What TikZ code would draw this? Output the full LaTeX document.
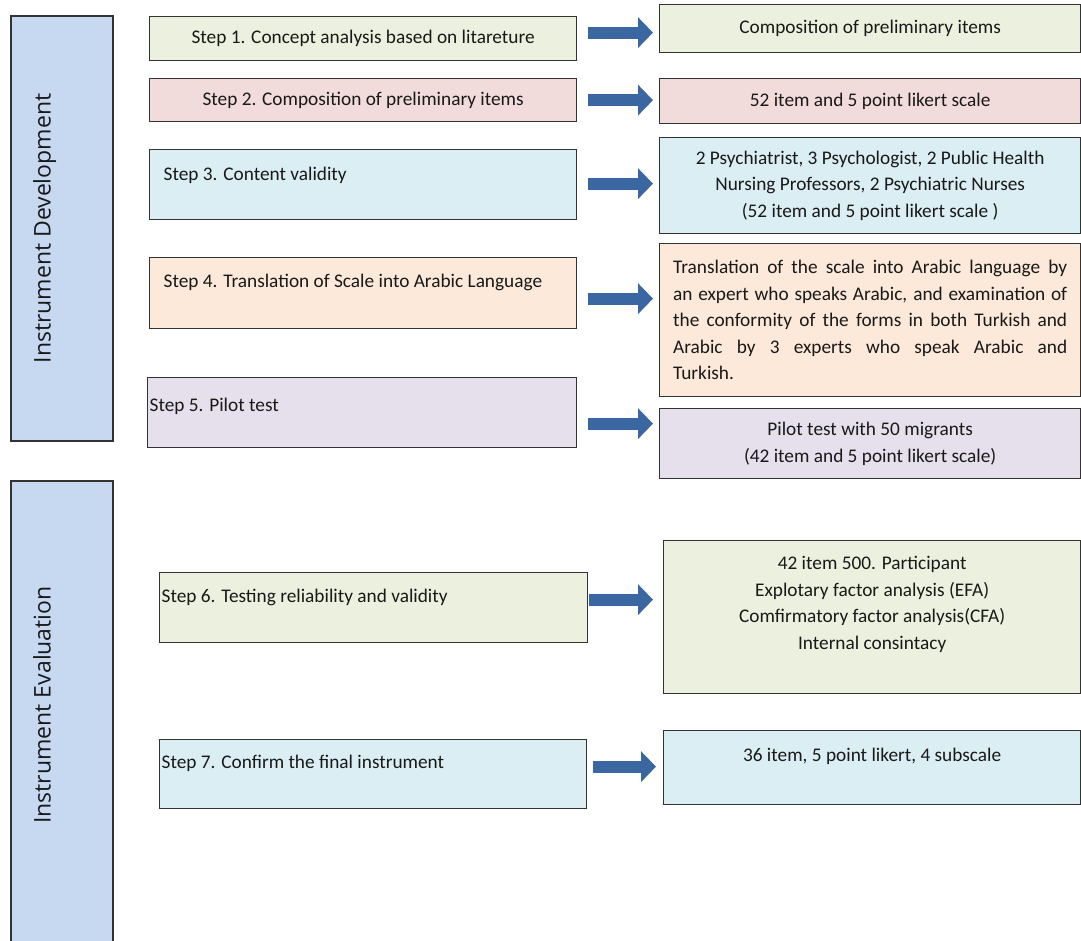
\documentclass[tikz,border=0pt]{standalone}
\usepackage{fontspec}
\setmainfont{Carlito}
\newfontfamily\sidefont{Open Sans}
\usetikzlibrary{arrows.meta}

\definecolor{sidefill}{HTML}{C6D9F1}
\definecolor{greenfill}{HTML}{EBF1DE}
\definecolor{pinkfill}{HTML}{F2DCDB}
\definecolor{bluefill}{HTML}{DBEEF4}
\definecolor{peachfill}{HTML}{FDE9D9}
\definecolor{lilacfill}{HTML}{E5E0EC}
\definecolor{arrowblue}{HTML}{3A66A2}

\tikzset{
  stepbox/.style={draw=black!80, line width=1.3pt, inner sep=0pt, anchor=north west,
    text=black!90, font=\fontsize{19.3}{26.5}\selectfont},
  outbox/.style={stepbox},
  sidebox/.style={draw=black!80, line width=1.3pt, fill=sidefill, inner sep=0pt,
    rotate=90, text=black!90, font=\sidefont\fontsize{23}{28}\selectfont},
  bigarrow/.style={draw=arrowblue, line width=12pt, -{Triangle[length=15pt,width=30pt]},
    shorten <=11pt, shorten >=6pt}
}

\begin{document}
\begin{tikzpicture}[x=1pt, y=-1pt]
    \useasboundingbox (0,0) rectangle (1081,941);
    \clip (0,0) rectangle (1081,941);

    % phases
    \node[sidebox, minimum width=425pt, minimum height=102pt, text height=39.5pt, text depth=62.5pt] (dev) at (62,228.5) {Instrument Development};
    \node[sidebox, minimum width=480pt, minimum height=102pt, text height=39.5pt, text depth=62.5pt] (eval) at (62,721) {\hspace*{32pt}Instrument Evaluation};

    % steps
    \node[stepbox, fill=greenfill, minimum width=427pt, minimum height=44pt] (s1) at (149,16) {Step 1. Concept analysis based on litareture};
    \node[stepbox, fill=pinkfill, minimum width=427pt, minimum height=43pt] (s2) at (149,78) {Step 2. Composition of preliminary items};
    \node[stepbox, fill=bluefill, inner xsep=14pt, text width=399pt, align=flush left, text height=31pt, text depth=39pt] (s3) at (149,149) {Step 3. Content validity};
    \node[stepbox, fill=peachfill, inner xsep=14pt, text width=399pt, align=flush left, text height=30pt, text depth=41pt] (s4) at (149,257) {Step 4. Translation of Scale into Arabic Language};
    \node[stepbox, fill=lilacfill, inner xsep=2pt, text width=425pt, align=flush left, text height=34pt, text depth=36pt] (s5) at (147,377) {Step 5. Pilot test};
    \node[stepbox, fill=greenfill, inner xsep=2pt, text width=424pt, align=flush left, text height=30pt, text depth=40pt] (s6) at (159,572) {Step 6. Testing reliability and validity};
    \node[stepbox, fill=bluefill, inner xsep=2pt, text width=423pt, align=flush left, text height=29pt, text depth=40pt] (s7) at (159,739) {Step 7. Confirm the final instrument};

    % results
    \node[outbox, fill=greenfill, minimum width=421pt, minimum height=48pt] (r1) at (659,4) {Composition of preliminary items};
    \node[outbox, fill=pinkfill, minimum width=421pt, minimum height=45pt] (r2) at (659,78) {52 item and 5 point likert scale};
    \node[outbox, fill=bluefill, minimum width=421pt, minimum height=96pt, align=center] (r3) at (659,137) {2 Psychiatrist, 3 Psychologist, 2 Public Health\\Nursing Professors, 2 Psychiatric Nurses\\(52 item and 5 point likert scale )};
    \node[outbox, fill=peachfill, minimum width=421pt, minimum height=153pt, text width=394pt, align=justify] (r4) at (659,243) {Translation of the scale into Arabic language by\linebreak an expert who speaks Arabic, and examination of\linebreak the conformity of the forms in both Turkish and\linebreak Arabic by 3 experts who speak Arabic and\linebreak Turkish.};
    \node[outbox, fill=lilacfill, minimum width=421pt, minimum height=70pt, align=center] (r5) at (659,408) {Pilot test with 50 migrants\\(42 item and 5 point likert scale)};
    \node[outbox, fill=greenfill, inner xsep=2pt, text width=413pt, align=flush center, text height=29pt, text depth=124pt] (r6) at (663,540) {42 item 500. Participant\\Explotary factor analysis (EFA)\\Comfirmatory factor analysis(CFA)\\Internal consintacy};
    \node[outbox, fill=bluefill, inner xsep=2pt, text width=413pt, align=flush center, text height=31pt, text depth=43pt] (r7) at (663,730) {36 item, 5 point likert, 4 subscale};

    \draw[bigarrow] ([yshift=6pt]s1.east) -- ([yshift=6pt]s1.east -| r1.west);
    \draw[bigarrow] (s2.east) -- (s2.east -| r2.west);
    \draw[bigarrow] ([yshift=1pt]s3.east) -- ([yshift=1pt]s3.east -| r3.west);
    \draw[bigarrow] ([yshift=-5.5pt]s4.east) -- ([yshift=-5.5pt]s4.east -| r4.west);
    \draw[bigarrow] ([yshift=-11pt]s5.east) -- ([yshift=-11pt]s5.east -| r5.west);
    \draw[bigarrow, shorten <=1pt, shorten >=10pt] ([yshift=8pt]s6.east) -- ([yshift=8pt]s6.east -| r6.west);
    \draw[bigarrow, shorten <=6pt, shorten >=7pt] ([yshift=7.5pt]s7.east) -- ([yshift=7.5pt]s7.east -| r7.west);
\end{tikzpicture}
\end{document}
